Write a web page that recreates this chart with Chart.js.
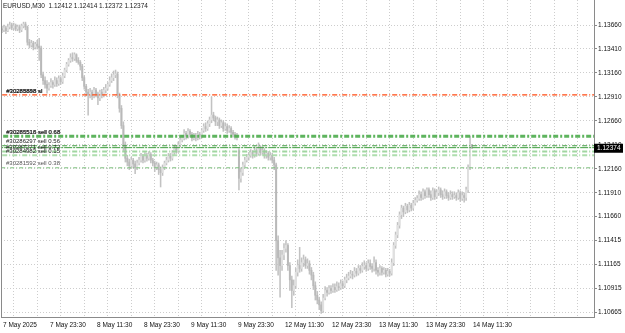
<!DOCTYPE html>
<html lang="en">
<head>
<meta charset="UTF-8">
<title>EURUSD,M30</title>
<script src="https://cdn.jsdelivr.net/npm/chart.js@4"></script>
<style>
    html, body { margin: 0; padding: 0; background: #fff; }
</style>
</head>
<body>
<canvas id="chart" width="625" height="333"></canvas>
<script>
// M30 bars, 7 May 11:30 .. 14 May 11:30 (weekend skipped)
const opens = [
    1.1362,1.1361,1.1363,1.1360,1.1364,1.1366,1.1363,1.1365,1.1362,1.1364,
    1.1361,1.1365,1.1367,1.1364,1.1348,1.1345,1.1347,1.1343,1.1346,1.1344,
    1.1342,1.1314,1.1308,1.1304,1.1300,1.1303,1.1306,1.1304,1.1308,1.1305,
    1.1310,1.1307,1.1313,1.1319,1.1325,1.1329,1.1332,1.1331,1.1335,1.1329,
    1.1327,1.1323,1.1311,1.1302,1.1296,1.1293,1.1296,1.1292,1.1298,1.1294,
    1.1290,1.1296,1.1293,1.1298,1.1300,1.1304,1.1308,1.1311,1.1314,1.1315,
    1.1293,1.1279,1.1261,1.1241,1.1227,1.1223,1.1219,1.1225,1.1221,1.1217,
    1.1222,1.1225,1.1229,1.1225,1.1230,1.1227,1.1231,1.1225,1.1222,1.1217,
    1.1220,1.1215,1.1212,1.1217,1.1222,1.1225,1.1229,1.1227,1.1233,1.1237,
    1.1235,1.1241,1.1246,1.1248,1.1253,1.1250,1.1255,1.1252,1.1248,1.1251,
    1.1248,1.1252,1.1250,1.1256,1.1260,1.1258,1.1263,1.1267,1.1272,1.1269,
    1.1265,1.1267,1.1261,1.1264,1.1258,1.1260,1.1256,1.1258,1.1254,1.1252,
    1.1250,1.1235,1.1206,1.1212,1.1220,1.1225,1.1228,1.1230,1.1233,1.1230,
    1.1235,1.1232,1.1237,1.1233,1.1235,1.1230,1.1232,1.1228,1.1230,1.1225,
    1.1220,1.1141,1.1123,1.1115,1.1126,1.1133,1.1136,1.1115,1.1100,1.1089,
    1.1094,1.1108,1.1115,1.1112,1.1118,1.1121,1.1115,1.1117,1.1110,1.1105,
    1.1094,1.1084,1.1079,1.1074,1.1068,1.1081,1.1089,1.1087,1.1091,1.1089,
    1.1092,1.1090,1.1093,1.1092,1.1096,1.1094,1.1100,1.1102,1.1104,1.1106,
    1.1105,1.1109,1.1107,1.1112,1.1110,1.1114,1.1115,1.1112,1.1117,1.1114,
    1.1112,1.1118,1.1110,1.1108,1.1112,1.1108,1.1110,1.1106,1.1109,1.1107,
    1.1118,1.1136,1.1147,1.1157,1.1168,1.1175,1.1171,1.1177,1.1173,1.1178,
    1.1175,1.1180,1.1183,1.1185,1.1189,1.1186,1.1192,1.1188,1.1194,1.1189,
    1.1186,1.1193,1.1187,1.1191,1.1194,1.1189,1.1187,1.1192,1.1188,1.1186,
    1.1189,1.1187,1.1188,1.1186,1.1191,1.1185,1.1188,1.1186,1.1194,1.1217,
    1.12412
];
const highs = [
    1.1365,1.1366,1.1365,1.1367,1.1369,1.1368,1.1368,1.1367,1.1366,1.1366,
    1.1367,1.1369,1.1369,1.1365,1.1351,1.1350,1.1349,1.1348,1.1350,1.1352,
    1.1344,1.1317,1.1312,1.1308,1.1306,1.1310,1.1308,1.1312,1.1311,1.1313,
    1.1312,1.1316,1.1321,1.1327,1.1331,1.1336,1.1337,1.1337,1.1336,1.1332,
    1.1329,1.1325,1.1313,1.1304,1.1299,1.1300,1.1298,1.1301,1.1300,1.1296,
    1.1298,1.1299,1.1301,1.1304,1.1306,1.1312,1.1315,1.1318,1.1319,1.1317,
    1.1295,1.1282,1.1265,1.1244,1.1230,1.1226,1.1228,1.1227,1.1224,1.1225,
    1.1228,1.1232,1.1231,1.1233,1.1232,1.1234,1.1233,1.1227,1.1224,1.1223,
    1.1222,1.1218,1.1220,1.1224,1.1228,1.1232,1.1232,1.1235,1.1241,1.1240,
    1.1244,1.1249,1.1251,1.1257,1.1255,1.1258,1.1257,1.1254,1.1253,1.1253,
    1.1255,1.1254,1.1258,1.1263,1.1264,1.1266,1.1270,1.1291,1.1275,1.1271,
    1.1270,1.1269,1.1267,1.1266,1.1264,1.1263,1.1261,1.1260,1.1256,1.1254,
    1.1253,1.1237,1.1217,1.1223,1.1228,1.1231,1.1233,1.1236,1.1235,1.1239,
    1.1237,1.1243,1.1240,1.1239,1.1237,1.1235,1.1234,1.1233,1.1232,1.1228,
    1.1222,1.1146,1.1131,1.1131,1.1138,1.1141,1.1138,1.1118,1.1104,1.1100,
    1.1112,1.1121,1.1134,1.1123,1.1126,1.1124,1.1122,1.1120,1.1113,1.1108,
    1.1098,1.1088,1.1082,1.1077,1.1085,1.1093,1.1092,1.1094,1.1094,1.1096,
    1.1096,1.1098,1.1097,1.1100,1.1099,1.1103,1.1106,1.1108,1.1110,1.1109,
    1.1113,1.1112,1.1115,1.1115,1.1118,1.1120,1.1118,1.1121,1.1121,1.1117,
    1.1124,1.1121,1.1113,1.1115,1.1114,1.1113,1.1112,1.1112,1.1111,1.1122,
    1.1139,1.1150,1.1160,1.1171,1.1178,1.1177,1.1180,1.1179,1.1181,1.1180,
    1.1183,1.1186,1.1188,1.1193,1.1192,1.1195,1.1194,1.1196,1.1196,1.1193,
    1.1196,1.1195,1.1194,1.1197,1.1196,1.1193,1.1195,1.1194,1.1191,1.1193,
    1.1192,1.1192,1.1191,1.1194,1.1193,1.1192,1.1191,1.1197,1.1220,1.1250,
    1.12414
];
const lows = [
    1.1358,1.1359,1.1357,1.1359,1.1362,1.1361,1.1361,1.1360,1.1360,1.1358,
    1.1359,1.1363,1.1361,1.1345,1.1342,1.1343,1.1340,1.1341,1.1341,1.1329,
    1.1311,1.1304,1.1300,1.1295,1.1298,1.1301,1.1300,1.1302,1.1302,1.1303,
    1.1304,1.1305,1.1311,1.1317,1.1323,1.1327,1.1328,1.1329,1.1327,1.1325,
    1.1319,1.1308,1.1299,1.1292,1.1272,1.1290,1.1288,1.1290,1.1291,1.1283,
    1.1287,1.1290,1.1291,1.1295,1.1298,1.1302,1.1306,1.1308,1.1311,1.1290,
    1.1275,1.1258,1.1235,1.1223,1.1219,1.1215,1.1217,1.1217,1.1211,1.1215,
    1.1220,1.1223,1.1222,1.1223,1.1224,1.1225,1.1222,1.1219,1.1213,1.1215,
    1.1210,1.1197,1.1209,1.1215,1.1220,1.1223,1.1224,1.1225,1.1231,1.1232,
    1.1233,1.1239,1.1244,1.1246,1.1247,1.1248,1.1249,1.1245,1.1246,1.1245,
    1.1246,1.1247,1.1248,1.1254,1.1255,1.1256,1.1260,1.1264,1.1266,1.1261,
    1.1261,1.1258,1.1259,1.1255,1.1256,1.1253,1.1254,1.1251,1.1249,1.1247,
    1.1246,1.1194,1.1202,1.1209,1.1218,1.1223,1.1225,1.1228,1.1227,1.1228,
    1.1229,1.1230,1.1230,1.1231,1.1227,1.1227,1.1225,1.1225,1.1222,1.1215,
    1.1110,1.1105,1.1082,1.1110,1.1121,1.1129,1.1110,1.1089,1.1071,1.1084,
    1.1091,1.1104,1.1108,1.1109,1.1114,1.1112,1.1112,1.1106,1.1100,1.1090,
    1.1079,1.1075,1.1069,1.1065,1.1066,1.1079,1.1083,1.1085,1.1086,1.1087,
    1.1087,1.1088,1.1089,1.1090,1.1091,1.1092,1.1097,1.1100,1.1102,1.1101,
    1.1103,1.1104,1.1105,1.1107,1.1108,1.1111,1.1109,1.1110,1.1111,1.1108,
    1.1109,1.1106,1.1104,1.1105,1.1105,1.1106,1.1103,1.1104,1.1104,1.1105,
    1.1115,1.1133,1.1144,1.1154,1.1164,1.1166,1.1169,1.1170,1.1171,1.1172,
    1.1173,1.1178,1.1181,1.1183,1.1183,1.1184,1.1185,1.1186,1.1186,1.1183,
    1.1184,1.1184,1.1185,1.1188,1.1186,1.1184,1.1185,1.1185,1.1183,1.1184,
    1.1184,1.1185,1.1183,1.1184,1.1182,1.1183,1.1181,1.1183,1.1191,1.1215,
    1.12372
];
const closes = [
    1.1361,1.1363,1.1360,1.1364,1.1366,1.1363,1.1365,1.1362,1.1364,1.1361,
    1.1365,1.1367,1.1364,1.1348,1.1345,1.1347,1.1343,1.1346,1.1344,1.1342,
    1.1314,1.1308,1.1304,1.1300,1.1303,1.1306,1.1304,1.1308,1.1305,1.1310,
    1.1307,1.1313,1.1319,1.1325,1.1329,1.1332,1.1331,1.1335,1.1329,1.1327,
    1.1323,1.1311,1.1302,1.1296,1.1293,1.1296,1.1292,1.1298,1.1294,1.1290,
    1.1296,1.1293,1.1298,1.1300,1.1304,1.1308,1.1311,1.1314,1.1315,1.1293,
    1.1279,1.1261,1.1241,1.1227,1.1223,1.1219,1.1225,1.1221,1.1217,1.1222,
    1.1225,1.1229,1.1225,1.1230,1.1227,1.1231,1.1225,1.1222,1.1217,1.1220,
    1.1215,1.1212,1.1217,1.1222,1.1225,1.1229,1.1227,1.1233,1.1237,1.1235,
    1.1241,1.1246,1.1248,1.1253,1.1250,1.1255,1.1252,1.1248,1.1251,1.1248,
    1.1252,1.1250,1.1256,1.1260,1.1258,1.1263,1.1267,1.1272,1.1269,1.1265,
    1.1267,1.1261,1.1264,1.1258,1.1260,1.1256,1.1258,1.1254,1.1252,1.1250,
    1.1249,1.1206,1.1212,1.1220,1.1225,1.1228,1.1230,1.1233,1.1230,1.1235,
    1.1232,1.1237,1.1233,1.1235,1.1230,1.1232,1.1228,1.1230,1.1225,1.1220,
    1.1141,1.1123,1.1115,1.1126,1.1133,1.1136,1.1115,1.1100,1.1089,1.1094,
    1.1108,1.1115,1.1112,1.1118,1.1121,1.1115,1.1117,1.1110,1.1105,1.1094,
    1.1084,1.1079,1.1074,1.1068,1.1081,1.1089,1.1087,1.1091,1.1089,1.1092,
    1.1090,1.1093,1.1092,1.1096,1.1094,1.1100,1.1102,1.1104,1.1106,1.1105,
    1.1109,1.1107,1.1112,1.1110,1.1114,1.1115,1.1112,1.1117,1.1114,1.1112,
    1.1118,1.1110,1.1108,1.1112,1.1108,1.1110,1.1106,1.1109,1.1107,1.1118,
    1.1136,1.1147,1.1157,1.1168,1.1175,1.1171,1.1177,1.1173,1.1178,1.1175,
    1.1180,1.1183,1.1185,1.1189,1.1186,1.1192,1.1188,1.1194,1.1189,1.1186,
    1.1193,1.1187,1.1191,1.1194,1.1189,1.1187,1.1192,1.1188,1.1186,1.1189,
    1.1187,1.1188,1.1186,1.1191,1.1185,1.1188,1.1186,1.1194,1.1217,1.1241,
    1.12374
];

// one label every 24 bars
const xLabels = ['7 May 2025', '7 May 23:30', '8 May 11:30', '8 May 23:30', '9 May 11:30',
    '9 May 23:30', '12 May 11:30', '12 May 23:30', '13 May 11:30', '13 May 23:30', '14 May 11:30'];
const yTicks = [1.13660, 1.13410, 1.13160, 1.12910, 1.12660, 1.12410, 1.12160,
    1.11910, 1.11660, 1.11415, 1.11165, 1.10915, 1.10665];

// order lines
const slLevel = 1.1293;
const slLabels = ['#30285888 sl', '#30288898 sl'];
const sellLevels = [1.1250, 1.1240, 1.1238, 1.1234, 1.1230, 1.1217];
const sellLabels = ['#30285518 sell 0.68', '#30286297 sell 0.56', '', '#30287271 sell 0.72', '#30284982 sell 0.15', '#30281592 sell 0.38'];

const title = 'EURUSD,M30  1.12412 1.12414 1.12372 1.12374';
const FONT = 'Liberation Sans, Arial, sans-serif';

const idx = opens.map((_, i) => i);
const wickData = idx.map(i => ({ x: i, y: [lows[i], highs[i]] }));
const bodyData = idx.map(i => ({ x: i, y: [opens[i], closes[i]] }));

const sellStyles = [
    { color: 'rgba(76, 172, 76, 0.9)', width: 3, dash: [5, 2, 2, 2] },
    { color: '#3f9d3f', width: 1, dash: [5, 2, 1, 2] },
    { color: '#3f9d3f', width: 1, dash: [8, 1, 2, 1] },
    { color: 'rgba(150, 210, 150, 0.9)', width: 2, dash: [5, 2, 1, 2] },
    { color: 'rgba(165, 218, 165, 0.9)', width: 2, dash: [5, 2, 1, 2] },
    { color: '#7cc07c', width: 1, dash: [4, 2, 1, 2] }
];

function levelLine(p, st) {
    return {
        type: 'line',
        data: [{ x: -5, y: p }, { x: 320, y: p }],
        borderColor: st.color,
        borderWidth: st.width,
        borderDash: st.dash,
        pointRadius: 0,
        fill: false,
        order: -1
    };
}

const overlay = {
    id: 'overlay',
    afterDraw(chart) {
        const ctx = chart.ctx;
        const y = chart.scales.y;
        const area = chart.chartArea;
        ctx.save();
        // left frame
        ctx.fillStyle = '#8a8a8a';
        ctx.fillRect(1, 0, 1, area.bottom);

        ctx.font = '6.5px ' + FONT;
        ctx.textBaseline = 'middle';
        ctx.textAlign = 'left';
        ctx.fillStyle = '#1a1a1a';
        ctx.fillText(title, 3, 6);

        // order labels
        ctx.font = '6px ' + FONT;
        const slY = y.getPixelForValue(slLevel) - 4;
        ctx.fillStyle = '#111';
        ctx.fillText(slLabels[0], 6, slY);
        ctx.fillText(slLabels[1], 6.5, slY);
        sellLevels.forEach((p, k) => {
            if (!sellLabels[k]) return;
            const ty = y.getPixelForValue(p) - 4;
            ctx.fillStyle = k === 5 ? '#555' : '#222';
            ctx.fillText(sellLabels[k], 6, ty);
            if (k === 0) {
                ctx.fillText('#30286516 sell 0.68', 6.5, ty);
            }
        });

        // current price tag
        ctx.font = '6.5px ' + FONT;
        const last = closes[closes.length - 1];
        const py = y.getPixelForValue(last);
        ctx.fillStyle = '#000';
        ctx.fillRect(area.right, py - 4.5, 29, 9);
        ctx.fillStyle = '#fff';
        ctx.fillText(last.toFixed(5), area.right + 3, py);
        ctx.restore();
    }
};

new Chart(document.getElementById('chart'), {
    type: 'bar',
    data: {
        datasets: [
            {
                data: wickData,
                backgroundColor: '#c2c2c2',
                barThickness: 0.9,
                grouped: false,
                order: 2
            },
            {
                data: bodyData,
                backgroundColor: ctx => closes[ctx.dataIndex] >= opens[ctx.dataIndex] ? '#e0e0e0' : '#b9b9b9',
                barThickness: 1.3,
                grouped: false,
                order: 1
            },
            levelLine(slLevel, { color: '#ff4b12', width: 1.2, dash: [5, 2, 1, 2] }),
            ...sellLevels.map((p, k) => levelLine(p, sellStyles[k]))
        ]
    },
    options: {
        responsive: false,
        animation: false,
        devicePixelRatio: 1,
        layout: { padding: { left: 1, top: 0, right: 0, bottom: 0 } },
        plugins: {
            legend: { display: false },
            tooltip: { enabled: false }
        },
        scales: {
            x: {
                type: 'linear',
                min: -0.5,
                max: 302.3,
                offset: false,
                afterBuildTicks: s => {
                    s.ticks = [];
                    for (let v = 0; v <= 300; v += 12) s.ticks.push({ value: v });
                },
                afterFit: s => { s.height = 16; s.paddingLeft = 0; s.paddingRight = 0; },
                ticks: {
                    autoSkip: false,
                    maxRotation: 0,
                    align: 'start',
                    labelOffset: 1,
                    padding: 4,
                    color: '#111',
                    font: { family: FONT, size: 6.5 },
                    callback: v => (v % 24 === 0 && v / 24 < xLabels.length) ? xLabels[v / 24] : ''
                },
                grid: { color: '#cdcdcd', drawTicks: false },
                border: { color: '#8a8a8a', dash: [1, 2] }
            },
            y: {
                type: 'linear',
                position: 'right',
                min: 1.10613,
                max: 1.13921,
                afterBuildTicks: s => { s.ticks = yTicks.map(v => ({ value: v })); },
                afterFit: s => { s.width = 31; s.paddingTop = 0; s.paddingBottom = 0; },
                ticks: {
                    autoSkip: false,
                    padding: 1,
                    color: '#111',
                    font: { family: FONT, size: 6.5 },
                    callback: v => v.toFixed(5)
                },
                grid: { color: '#cdcdcd', tickLength: 3, tickColor: '#8a8a8a', tickBorderDash: [] },
                border: { color: '#8a8a8a', dash: [1, 2] }
            }
        }
    },
    plugins: [overlay]
});
</script>
</body>
</html>
